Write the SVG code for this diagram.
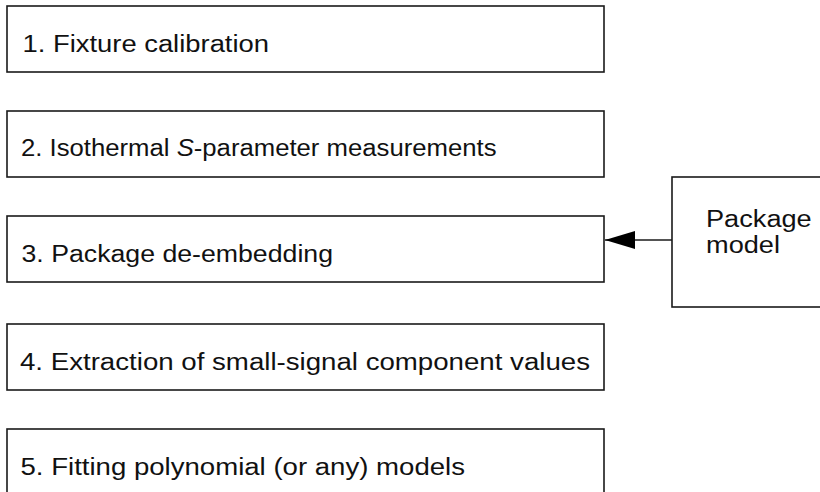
<svg xmlns="http://www.w3.org/2000/svg" width="820" height="492" viewBox="0 0 820 492">
<defs>
<style>
.box{fill:#fff;stroke:#1a1a1a;stroke-width:1.6}
.t{font-family:"Liberation Sans",Arial,sans-serif;font-size:23px;fill:#111}
.c{stroke:#1a1a1a;stroke-width:1.6;fill:none}
</style>
<marker id="ah" markerUnits="userSpaceOnUse" markerWidth="32" markerHeight="20" refX="30" refY="9" orient="auto">
<path d="M0,0 L30,9 L0,18 Z" fill="#000"/>
</marker>
</defs>
<rect width="820" height="492" fill="#fff"/>
<g id="step1"><rect class="box" x="7" y="6" width="597" height="66"/><text class="t" x="22.5" y="51.5" textLength="246.5" lengthAdjust="spacingAndGlyphs">1. Fixture calibration</text></g>
<g id="step2"><rect class="box" x="7" y="111" width="597" height="66"/><text class="t" x="21" y="155.5" textLength="475.5" lengthAdjust="spacingAndGlyphs">2. Isothermal <tspan font-style="italic">S</tspan>-parameter measurements</text></g>
<g id="step3"><rect class="box" x="7" y="216" width="597" height="66"/><text class="t" x="21.5" y="261.5" textLength="311.5" lengthAdjust="spacingAndGlyphs">3. Package de-embedding</text></g>
<g id="step4"><rect class="box" x="7" y="324" width="597" height="66"/><text class="t" x="20" y="370" textLength="570" lengthAdjust="spacingAndGlyphs">4. Extraction of small-signal component values</text></g>
<g id="step5"><rect class="box" x="7" y="429" width="597" height="80"/><text class="t" x="20.5" y="475" textLength="444.5" lengthAdjust="spacingAndGlyphs">5. Fitting polynomial (or any) models</text></g>
<g id="pkg"><rect class="box" x="672" y="177" width="160" height="130"/><text class="t" x="706" y="227.3" textLength="105.7" lengthAdjust="spacingAndGlyphs">Package</text><text class="t" x="706" y="253.3" textLength="74" lengthAdjust="spacingAndGlyphs">model</text></g>
<g id="connectors"><line class="c" x1="672" y1="240" x2="605" y2="240" marker-end="url(#ah)"/></g>
</svg>
